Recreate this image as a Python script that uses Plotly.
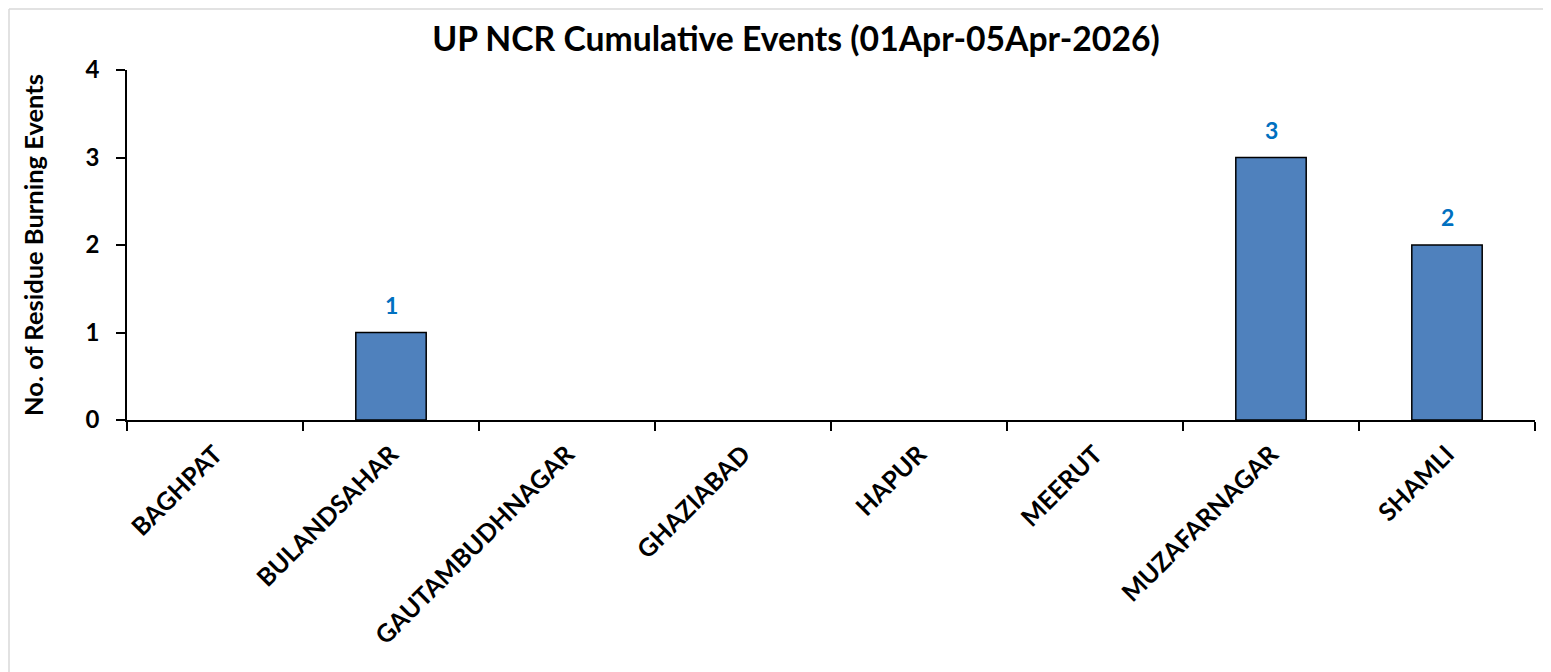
import plotly.graph_objects as go

districts = ["BAGHPAT", "BULANDSAHAR", "GAUTAMBUDHNAGAR", "GHAZIABAD",
             "HAPUR", "MEERUT", "MUZAFARNAGAR", "SHAMLI"]
events = [0, 1, 0, 0, 0, 0, 3, 2]
y_ticks = [0, 1, 2, 3, 4]

title_text = "UP NCR Cumulative Events (01Apr-05Apr-2026)"
y_title = "No. of Residue Burning Events"

FONT = "Lato"
W, H = 1543, 664
L, R, T, B = 119, 16, 62, 252
pw, ph = W - L - R, H - T - B

fig = go.Figure()
fig.add_trace(go.Bar(
    x=districts, y=events,
    marker=dict(color="#4F81BD",
                line=dict(color="black", width=[1.5 if v > 0 else 0 for v in events])),
    hoverinfo="x+y",
))

for d, v in zip(districts, events):
    if v > 0:
        fig.add_annotation(x=d, y=v, text=str(v), showarrow=False,
                           yshift=28, font=dict(family=FONT, size=23, color="#0070C0", weight="bold"))

# y axis title
fig.add_annotation(xref="paper", yref="paper", x=(25 - L) / pw, y=0.5,
                   xanchor="center", yanchor="middle", textangle=-90, showarrow=False,
                   text=y_title, font=dict(family=FONT, size=25.5, color="black", weight="bold"))

# outer light gray chart border: only the top and left edges are in view
x_left = (1 - L) / pw
x_right = (W - L) / pw
y_top = (T + ph - 1) / ph
y_bottom = -(H - (T + ph)) / ph
border = dict(color="#D9D9D9", width=1.5)
fig.add_shape(type="line", xref="paper", yref="paper", x0=x_left, x1=x_right,
              y0=y_top, y1=y_top, line=border, layer="below")
fig.add_shape(type="line", xref="paper", yref="paper", x0=x_left, x1=x_left,
              y0=y_bottom, y1=y_top, line=border, layer="below")

fig.update_layout(
    width=W, height=H,
    margin=dict(l=L, r=R, t=T, b=B),
    paper_bgcolor="white", plot_bgcolor="white",
    bargap=0.6,
    showlegend=False,
    title=dict(text=title_text, x=788 / W, xanchor="center", y=1 - 31 / H, yanchor="middle",
               font=dict(family=FONT, size=33.7, color="black", weight="bold")),
    font=dict(family=FONT, color="black"),
)
fig.update_xaxes(
    showline=True, linecolor="black", linewidth=1.5,
    ticks="outside", ticklen=9, tickwidth=1.5, tickcolor="black",
    tickson="boundaries", tickangle=-45, ticklabelstandoff=8,
    tickfont=dict(family=FONT, size=25, color="black", weight="bold"),
    showgrid=False,
)
fig.update_yaxes(
    range=[0, 4], tickvals=y_ticks,
    showline=True, linecolor="black", linewidth=1.5,
    ticks="outside", ticklen=9, tickwidth=1.5, tickcolor="black",
    ticklabelstandoff=12,
    tickfont=dict(family=FONT, size=24, color="black", weight="bold"),
    showgrid=False, zeroline=False,
)

fig.write_html("out.html")
